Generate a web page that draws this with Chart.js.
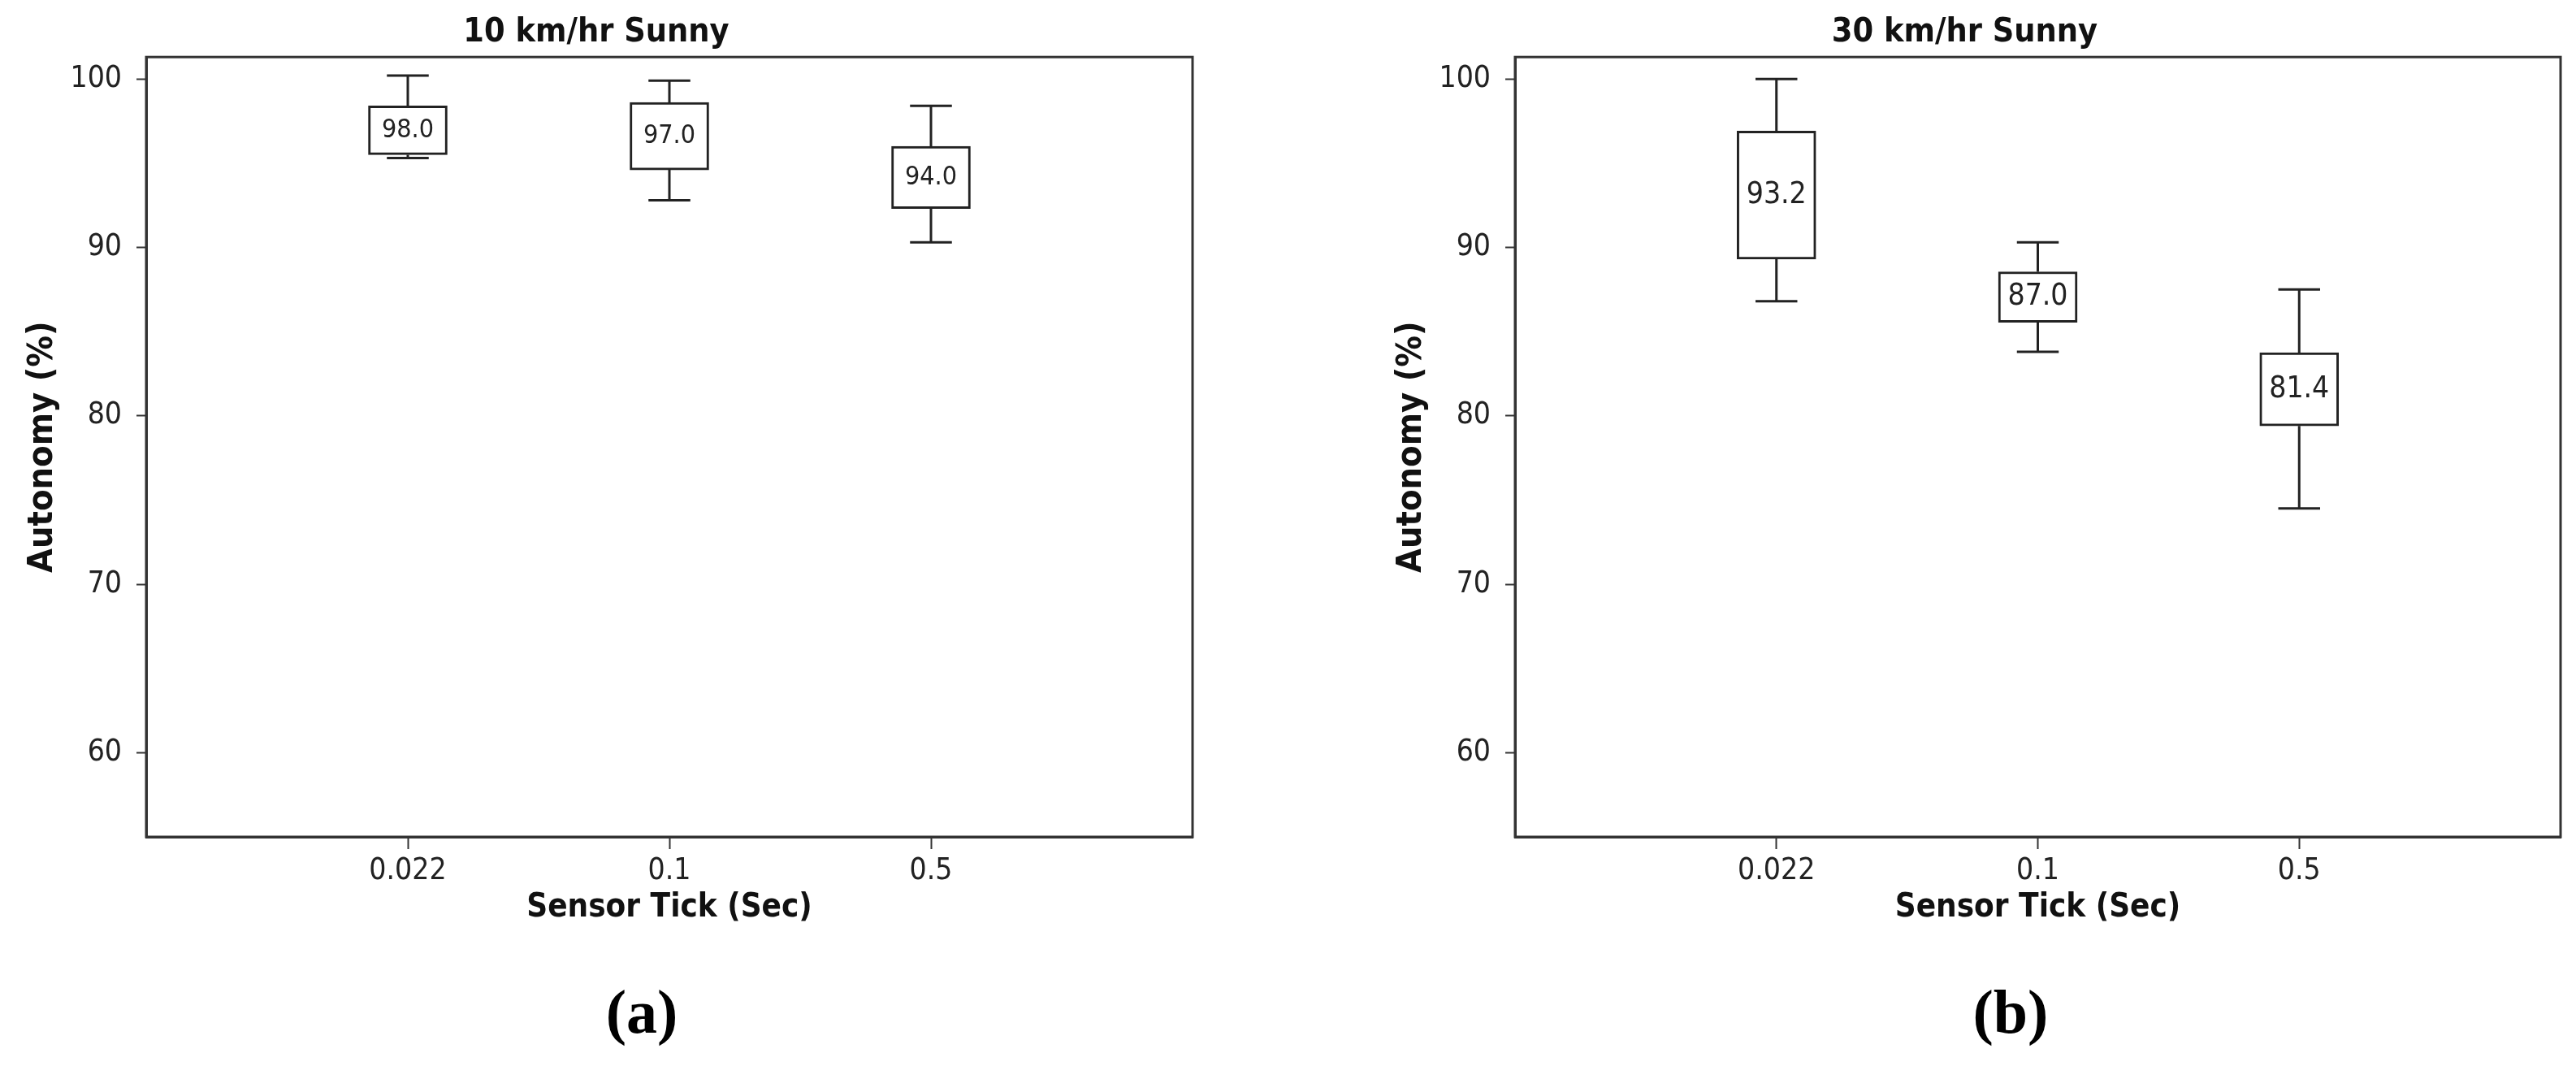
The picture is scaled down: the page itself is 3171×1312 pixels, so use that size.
<!DOCTYPE html>
<html>
<head>
<meta charset="utf-8">
<script src="https://cdn.jsdelivr.net/npm/chart.js@4.4.1/dist/chart.umd.min.js"></script>
<style>
  html, body { margin: 0; padding: 0; background: #fff; }
  #page { position: relative; width: 3171px; height: 1312px; overflow: hidden; background: #fff; }
  canvas { position: absolute; top: 0; }
  #c1 { left: 0; }
  #c2 { left: 1685px; }
  .cap { position: absolute; top: 1200px; width: 200px; text-align: center;
         font: bold 76px 'Liberation Serif', 'DejaVu Serif', serif; line-height: 90px; color: #000; }
</style>
</head>
<body>
<div id="page">
  <canvas id="c1" width="1648" height="1160"></canvas>
  <canvas id="c2" width="1647" height="1160"></canvas>
  <div class="cap" style="left:690px">(a)</div>
  <div class="cap" style="left:2375px">(b)</div>
</div>
<script>
// sensor tick categories
var tickLabels = ['0.022', '0.1', '0.5'];
var positions = [1, 2, 3];
var yTicks = [60, 70, 80, 90, 100];

// 10 km/hr Sunny
var lo10 = [95.3, 92.8, 90.3];
var q1_10 = [95.5, 94.6, 92.3];
var q3_10 = [98.4, 98.6, 96.0];
var hi10 = [100.2, 99.9, 98.4];
var lab10 = ['98.0', '97.0', '94.0'];

// 30 km/hr Sunny
var lo30 = [86.8, 83.8, 74.5];
var q1_30 = [89.3, 85.55, 79.4];
var q3_30 = [96.9, 88.55, 83.75];
var hi30 = [100.0, 90.3, 87.5];
var lab30 = ['93.2', '87.0', '81.4'];

var FONT = "'DejaVu Sans Condensed', 'DejaVu Sans', sans-serif";
var INK = '#222';

function createChart(id, title, lo, q1, q3, hi, labels, labelSize) {
  var ctx = document.getElementById(id);

  // whiskers, caps, box labels and the frame
  var boxExtras = {
    id: 'boxExtras',
    afterDatasetsDraw: function (chart) {
      var c = chart.ctx, x = chart.scales.x, y = chart.scales.y, a = chart.chartArea;
      c.save();
      c.strokeStyle = INK;
      c.lineWidth = 3;
      for (var i = 0; i < positions.length; i++) {
        var px = x.getPixelForValue(positions[i]);
        var cl = x.getPixelForValue(positions[i] - 0.08);
        var cr = x.getPixelForValue(positions[i] + 0.08);
        c.beginPath();
        c.moveTo(px, y.getPixelForValue(q3[i]));
        c.lineTo(px, y.getPixelForValue(hi[i]));
        c.moveTo(px, y.getPixelForValue(q1[i]));
        c.lineTo(px, y.getPixelForValue(lo[i]));
        c.moveTo(cl, y.getPixelForValue(hi[i]));
        c.lineTo(cr, y.getPixelForValue(hi[i]));
        c.moveTo(cl, y.getPixelForValue(lo[i]));
        c.lineTo(cr, y.getPixelForValue(lo[i]));
        c.stroke();
        c.fillStyle = INK;
        c.font = labelSize + 'px ' + FONT;
        c.textAlign = 'center';
        c.textBaseline = 'middle';
        c.fillText(labels[i], px, y.getPixelForValue((q1[i] + q3[i]) / 2));
      }
      c.strokeStyle = '#333';
      c.strokeRect(a.left, a.top, a.right - a.left, a.bottom - a.top);
      c.restore();
    }
  };

  return new Chart(ctx, {
    type: 'bar',
    data: {
      datasets: [{
        data: positions.map(function (p, i) { return { x: p, y: [q1[i], q3[i]] }; }),
        backgroundColor: '#fff',
        borderColor: INK,
        borderWidth: 3,
        borderSkipped: false,
        barThickness: 97
      }]
    },
    options: {
      responsive: false,
      animation: false,
      layout: { padding: { left: 0, right: 180, top: 0, bottom: 0 } },
      plugins: {
        legend: { display: false },
        tooltip: { enabled: false },
        title: {
          display: true,
          text: title,
          color: '#111',
          font: { family: FONT, size: 41, weight: 'bold' },
          padding: { top: 16, bottom: 5 }
        }
      },
      scales: {
        x: {
          type: 'linear',
          min: 0,
          max: 4,
          offset: false,
          afterBuildTicks: function (s) { s.ticks = positions.map(function (p) { return { value: p }; }); },
          afterFit: function (s) { s.height = 130; },
          ticks: {
            color: INK,
            font: { family: FONT, size: 37 },
            padding: 5,
            maxRotation: 0,
            callback: function (v) { return tickLabels[positions.indexOf(v)]; }
          },
          grid: { offset: false, drawOnChartArea: false, tickLength: 15, tickWidth: 2, tickColor: '#333' },
          border: { color: '#333', width: 3 },
          title: {
            display: true,
            text: 'Sensor Tick (Sec)',
            color: '#111',
            font: { family: FONT, size: 40, weight: 'bold' },
            padding: { top: 0, bottom: 18 }
          }
        },
        y: {
          min: 55,
          max: 101.3,
          afterBuildTicks: function (s) { s.ticks = yTicks.map(function (v) { return { value: v }; }); },
          afterFit: function (s) { s.width = 180; },
          ticks: {
            color: INK,
            font: { family: FONT, size: 37 },
            padding: 18
          },
          grid: { drawOnChartArea: false, tickLength: 12, tickWidth: 2, tickColor: '#333' },
          border: { color: '#333', width: 3 },
          title: {
            display: true,
            text: 'Autonomy (%)',
            color: '#111',
            font: { family: FONT, size: 43, weight: 'bold' },
            padding: { top: 27, bottom: 0 }
          }
        }
      }
    },
    plugins: [boxExtras]
  });
}

window.onload = function () {
  createChart('c1', '10 km/hr Sunny', lo10, q1_10, q3_10, hi10, lab10, 32);
  createChart('c2', '30 km/hr Sunny', lo30, q1_30, q3_30, hi30, lab30, 37);
};
</script>
</body>
</html>
